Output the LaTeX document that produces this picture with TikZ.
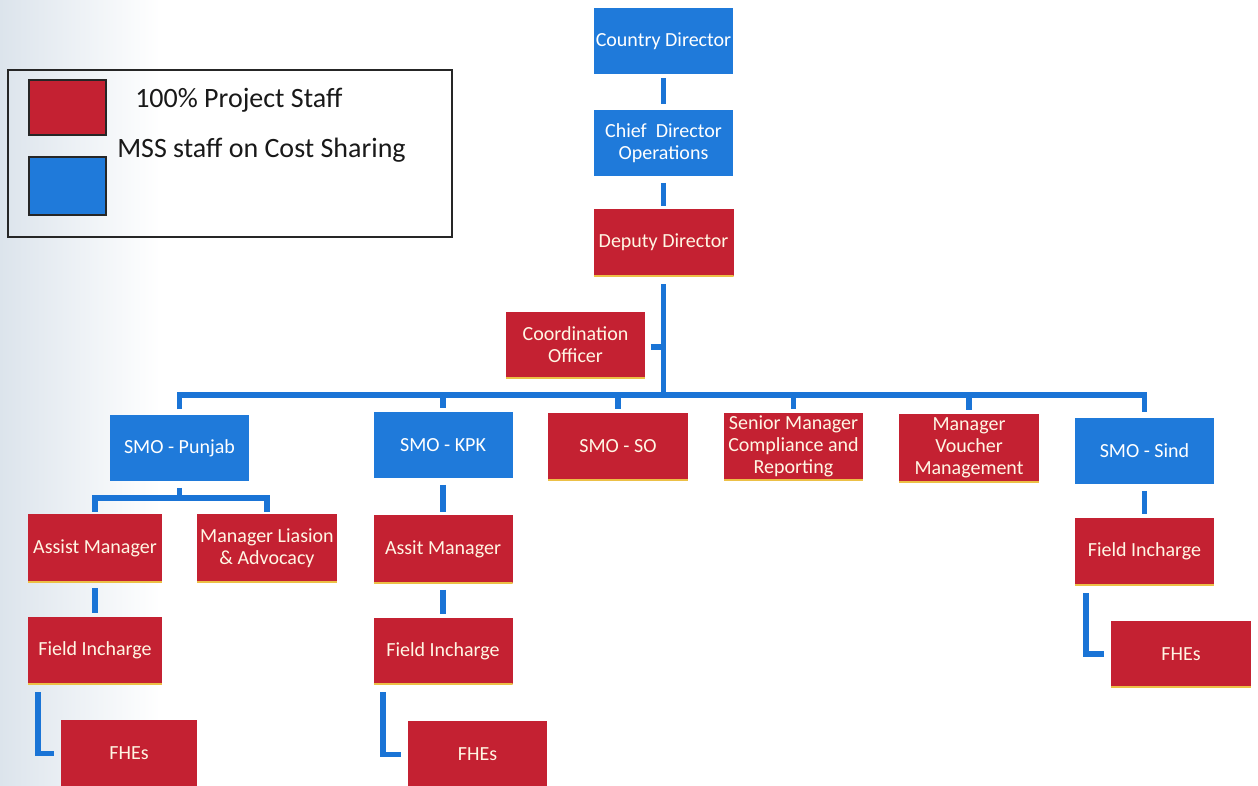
\documentclass[tikz,border=0pt]{standalone}
\usepackage{fontspec}
\setmainfont{Carlito}
\usetikzlibrary{calc}

\definecolor{boxblue}{RGB}{31,122,218}
\definecolor{boxred}{RGB}{196,33,50}
\definecolor{linkblue}{RGB}{26,116,214}
\definecolor{redtext}{RGB}{255,246,228}
\definecolor{goldrule}{RGB}{236,192,70}
\definecolor{paper}{RGB}{220,228,236}

\begin{document}
\begin{tikzpicture}[x=0.75pt,y=-0.75pt,
  box/.style={rectangle,inner sep=0pt,align=center,
    minimum width=104.25pt,minimum height=49.5pt,
    font=\fontsize{15}{16.5}\selectfont},
  costbox/.style={box,fill=boxblue,text=white},
  projbox/.style={box,fill=boxred,text=redtext,
    path picture={\draw[goldrule,line width=1.1pt]
      (path picture bounding box.south west) -- (path picture bounding box.south east);}},
  link/.style={draw=linkblue,line width=4.4pt},
  swatch/.style={rectangle,draw=black!85,line width=1.4pt,inner sep=0pt,
    minimum width=57.75pt},
  legendtext/.style={anchor=base west,inner sep=0pt,text=black!90,
    font=\fontsize{21}{25}\selectfont}]

% page and the soft grey edge of the sheet
\useasboundingbox (0,0) rectangle (1258,786);
\clip (0,0) rectangle (1258,786);
\fill[white] (0,0) rectangle (1258,786);
\shade[left color=paper,right color=white] (0,0) rectangle (160,786);

% legend
\node[rectangle,draw=black!85,line width=1.5pt,inner sep=0pt,
  minimum width=333pt,minimum height=125.25pt] (legend) at (230,153.5) {};
\node[swatch,fill=boxred,minimum height=41.25pt,
  path picture={\draw[goldrule,line width=1.1pt]
    (path picture bounding box.south west) -- (path picture bounding box.south east);}]
  (swproj) at (67.5,107.5) {};
\node[swatch,fill=boxblue,minimum height=43.5pt] (swcost) at (67.5,186) {};
\node[legendtext] (lgproj) at (135,107) {100\% Project Staff};
\node[legendtext] (lgcost) at (117,157) {MSS staff on Cost Sharing};

% top of the chart
\node[costbox] (cd)  at (663.5,41)  {Country Director};
\node[costbox] (cdo) at (663.5,143) {Chief\ \ Director\\Operations};
\node[projbox,minimum width=105pt,minimum height=50.25pt] (dd) at (663.5,242.5) {Deputy Director};
\node[projbox] (co) at (575.5,345) {Coordination\\Officer};

% second level
\node[costbox] (punjab) at (179.5,448)  {SMO - Punjab};
\node[costbox] (kpk)    at (443,445)    {SMO - KPK};
\node[projbox,minimum width=105pt,minimum height=50.25pt] (so)   at (618,446.5) {SMO - SO};
\node[projbox,minimum height=50.25pt] (smcr) at (793.5,446.5) {Senior Manager\\Compliance and\\Reporting};
\node[projbox,minimum width=105pt,minimum height=51pt] (mvm)  at (969,448) {Manager\\Voucher\\Management};
\node[costbox] (sind)   at (1144.5,451) {SMO - Sind};

% Punjab branch
\node[projbox,minimum width=100.5pt,minimum height=51pt] (am1)  at (95,548)    {Assist Manager};
\node[projbox,minimum width=105pt,minimum height=51pt]   (mla)  at (267,548)   {Manager Liasion\\\& Advocacy};
\node[projbox,minimum width=100.5pt,minimum height=50.25pt] (fi1) at (95,650.5) {Field Incharge};
\node[projbox,minimum width=102pt,minimum height=50.25pt] (fhe1) at (129,753.5) {FHEs};

% KPK branch
\node[projbox,minimum height=51pt] (am2)  at (443,549)   {Assit Manager};
\node[projbox] (fi2)  at (443,651)   {Field Incharge};
\node[projbox,minimum height=50.25pt] (fhe2) at (477.5,754.5) {FHEs};

% Sind branch
\node[projbox,minimum height=50.25pt] (fi3)  at (1144.5,551.5) {Field Incharge};
\node[projbox,minimum width=105pt] (fhe3) at (1181,654)    {FHEs};

% junction points of the bars
\coordinate (bus) at (663,395);
\coordinate (sub) at (180,498);

% connectors at the top
\draw[link,shorten <=3pt,shorten >=4.5pt] (cd) -- (cdo);
\draw[link,shorten <=5pt,shorten >=2pt] (cdo) -- (dd);
\draw[link,shorten <=6pt] (dd.south) -- (dd.south |- bus);
\draw[link,shorten <=4pt] (co.east) ++(0,2) -- ($(dd.south |- co.east)+(0,2)$);

% main bar and its drops
\draw[link,shorten <=4pt,shorten >=4pt] (punjab.north) -- (punjab.north |- bus)
  -- (sind.north |- bus) -- (sind.north);
\foreach \n in {kpk,so,smcr,mvm}
  \draw[link,shorten >=3pt] (\n.north |- bus) -- (\n.north);

% Punjab branch connectors
\draw[link,shorten <=5pt] (punjab.south) -- (punjab.south |- sub);
\draw[link,shorten <=1.5pt,shorten >=1.5pt] (am1.north) -- (am1.north |- sub)
  -- (mla.north |- sub) -- (mla.north);
\draw[link,shorten <=4.5pt,shorten >=2.5pt] (am1) -- (fi1);
\draw[link,shorten <=6pt,shorten >=5pt] ($(fi1.south west)+(10,0)$) |- (fhe1.west);

% KPK branch connectors
\draw[link,shorten <=5pt,shorten >=2pt] (kpk) -- (am2);
\draw[link,shorten <=5pt,shorten >=2.5pt] (am2) -- (fi2);
\draw[link,shorten <=6pt,shorten >=5pt] ($(fi2.south west)+(10,0)$) |- (fhe2.west);

% Sind branch connectors
\draw[link,shorten <=5pt,shorten >=2.5pt] (sind) -- (fi3);
\draw[link,shorten <=6pt,shorten >=5pt] ($(fi3.south west)+(11,0)$) |- (fhe3.west);
\end{tikzpicture}
\end{document}
